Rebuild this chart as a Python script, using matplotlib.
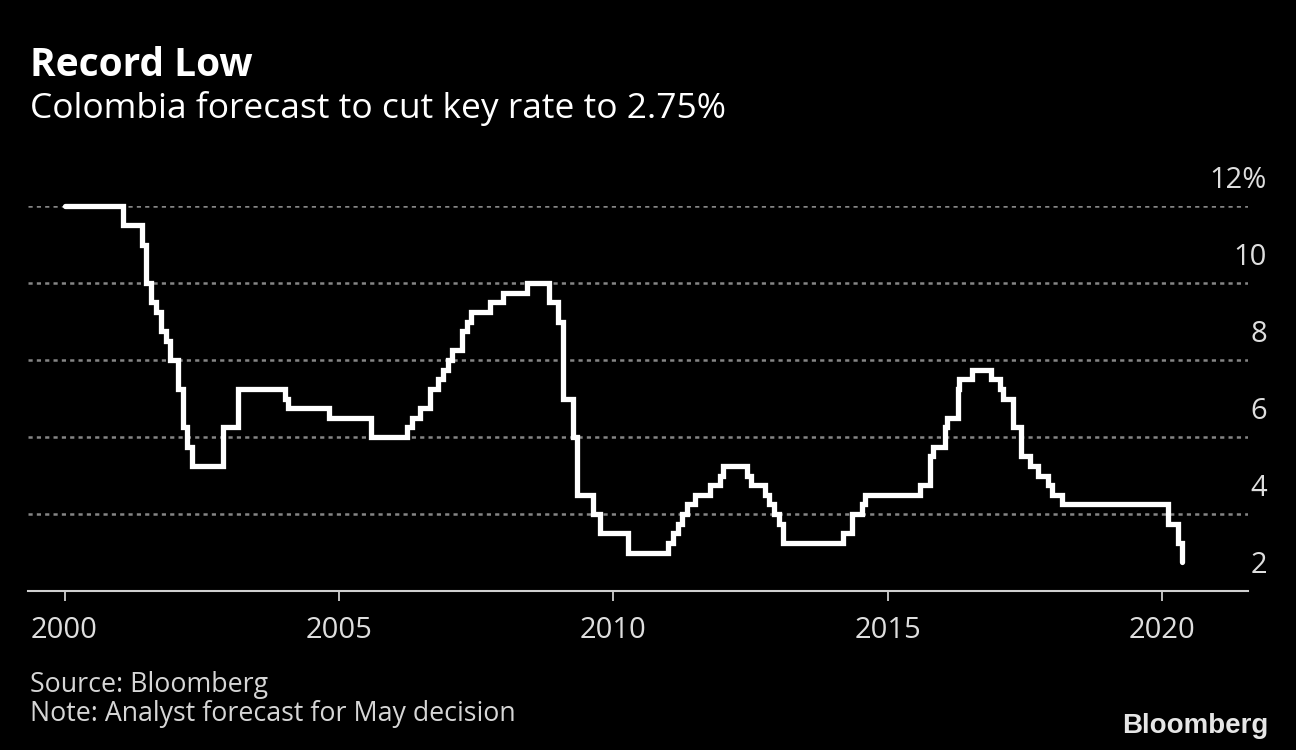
import matplotlib
matplotlib.use("Agg")
import matplotlib.pyplot as plt
import matplotlib.transforms as mtrans

# policy rate, step changes (decimal year -> rate in %)
change_years = [
    2000.00, 2001.07, 2001.41, 2001.48, 2001.58, 2001.67, 2001.76, 2001.85, 2001.92,
    2002.07, 2002.16, 2002.23, 2002.32, 2002.89, 2003.16, 2004.02, 2004.07, 2004.82,
    2005.58, 2006.24, 2006.33, 2006.47, 2006.66, 2006.80, 2006.89, 2006.98, 2007.06,
    2007.24, 2007.33, 2007.40, 2007.75, 2007.99, 2008.42, 2008.82, 2008.99, 2009.08,
    2009.26, 2009.34, 2009.63, 2009.75, 2010.26, 2010.99, 2011.08, 2011.17, 2011.25,
    2011.34, 2011.48, 2011.76, 2011.94, 2011.99, 2012.43, 2012.50, 2012.76, 2012.83,
    2012.92, 2013.01, 2013.09, 2014.18, 2014.34, 2014.53, 2014.58, 2015.58, 2015.76,
    2015.82, 2016.04, 2016.07, 2016.27, 2016.30, 2016.53, 2016.88, 2017.04, 2017.10,
    2017.28, 2017.42, 2017.59, 2017.73, 2017.91, 2017.99, 2018.17, 2020.10, 2020.28,
    2020.35,
]
rates = [
    12.0, 11.5, 11.0, 10.0, 9.5, 9.25, 8.75, 8.5, 8.0,
    7.25, 6.25, 5.75, 5.25, 6.25, 7.25, 7.0, 6.75, 6.5,
    6.0, 6.25, 6.5, 6.75, 7.25, 7.5, 7.75, 8.0, 8.25,
    8.75, 9.0, 9.25, 9.5, 9.75, 10.0, 9.5, 9.0, 7.0,
    6.0, 4.5, 4.0, 3.5, 3.0, 3.25, 3.5, 3.75, 4.0,
    4.25, 4.5, 4.75, 5.0, 5.25, 5.0, 4.75, 4.5, 4.25,
    4.0, 3.75, 3.25, 3.5, 4.0, 4.25, 4.5, 4.75, 5.5,
    5.75, 6.25, 6.5, 7.25, 7.5, 7.75, 7.5, 7.25, 7.0,
    6.25, 5.5, 5.25, 5.0, 4.75, 4.5, 4.25, 3.75, 3.25,
    2.75,
]

x_ticks = [2000, 2005, 2010, 2015, 2020]
y_ticks = [2, 4, 6, 8, 10, 12]
y_labels = ["2", "4", "6", "8", "10", "12%"]

plt.rcParams["font.family"] = ["Open Sans", "DejaVu Sans"]
plt.rcParams["lines.scale_dashes"] = False

W, H = 1296, 750
fig = plt.figure(figsize=(W / 100, H / 100), dpi=100)
fig.patch.set_facecolor("black")

ax = fig.add_axes([28 / W, 1 - 591 / H, 1220 / W, 385 / H])
ax.set_facecolor("black")
ax.set_xlim(1999.335, 2021.56)
ax.set_ylim(2, 12)

for v in y_ticks[1:]:
    ax.axhline(v, color="#858585", lw=1.8, linestyle=(0, (3, 3)), zorder=1)
ax.axhline(2, color="#d0d0d0", lw=1.5, zorder=2, clip_on=False)

ax.plot(change_years, rates, drawstyle="steps-post", color="white", lw=3.8,
        solid_capstyle="round", solid_joinstyle="miter", clip_on=False, zorder=3)

for s in ax.spines.values():
    s.set_visible(False)
ax.set_yticks([])
ax.set_xticks(x_ticks)
ax.set_xticklabels([str(t) for t in x_ticks])
ax.tick_params(axis="x", length=7, width=1.3, color="#d0d0d0", pad=11,
               labelsize=21, labelcolor="#dedede")

# y labels on the right, sitting above the gridlines
trans = mtrans.blended_transform_factory(fig.transFigure, ax.transData)
trans = trans + mtrans.ScaledTranslation(0, 18 / 100, fig.dpi_scale_trans)
for v, lab in zip(y_ticks, y_labels):
    ax.text(1267 / W, v, lab, transform=trans, ha="right", va="baseline",
            fontsize=21, color="#dedede")

fig.text(30 / W, 1 - 76 / H, "Record Low", fontsize=28, fontweight="bold",
         color="white", ha="left", va="baseline")
fig.text(30 / W, 1 - 118 / H, "Colombia forecast to cut key rate to 2.75%",
         fontsize=25.5, color="white", ha="left", va="baseline")
fig.text(30 / W, 1 - 692 / H, "Source: Bloomberg", fontsize=19.3,
         color="#d6d6d6", ha="left", va="baseline")
fig.text(30 / W, 1 - 721 / H, "Note: Analyst forecast for May decision",
         fontsize=19.3, color="#d6d6d6", ha="left", va="baseline")
fig.text(1268 / W, 1 - 733 / H, "Bloomberg", fontsize=20, fontweight="bold",
         family=["Liberation Sans", "DejaVu Sans"], color="#e6e6e6",
         ha="right", va="baseline")

fig.savefig("out.png", dpi=100, facecolor="black")
